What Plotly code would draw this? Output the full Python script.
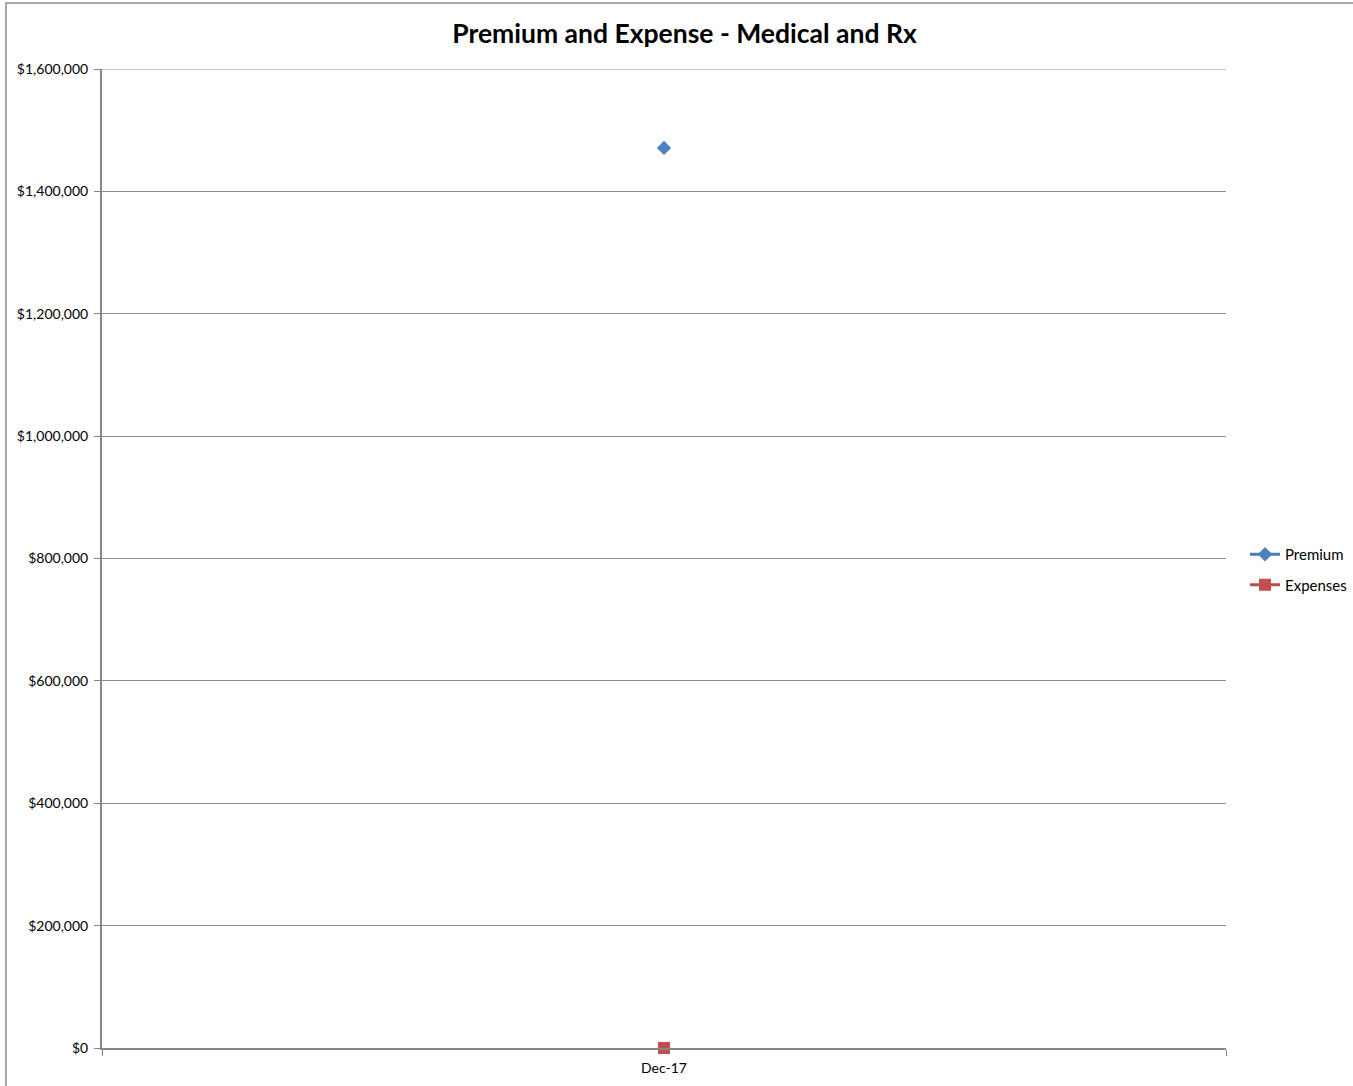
import plotly.graph_objects as go

categories = ["Dec-17"]
premium = [1471000]
expenses = [0]
y_ticks = [0, 200000, 400000, 600000, 800000, 1000000, 1200000, 1400000, 1600000]
y_tick_labels = ["$0", "$200,000", "$400,000", "$600,000", "$800,000",
                 "$1,000,000", "$1,200,000", "$1,400,000", "$1,600,000"]
y_max = 1600000

font_family = "Lato, 'Open Sans', sans-serif"

fig = go.Figure()
fig.add_trace(go.Scatter(
    x=categories, y=premium, name="Premium", mode="lines+markers",
    legendgroup="p",
    line=dict(color="#4A7EBB", width=3),
    marker=dict(symbol="diamond", size=11, color="#4F81BD"),
))
fig.add_trace(go.Scatter(
    x=categories, y=expenses, name="Expenses", mode="lines+markers",
    legendgroup="e",
    line=dict(color="#BE4B48", width=3),
    marker=dict(symbol="square", size=12, color="#C0504D"),
    cliponaxis=False,
))

fig.update_layout(
    width=1353, height=1086,
    margin=dict(l=102, r=127, t=69, b=38, autoexpand=False),
    paper_bgcolor="white", plot_bgcolor="white",
    font=dict(family=font_family, size=14, color="black"),
    title=dict(text="<b>Premium and Expense - Medical and Rx</b>",
               x=(453 + 916) / 2 / 1353, xanchor="center",
               y=1 - 34 / 1086, yanchor="middle",
               font=dict(size=26.5, family=font_family, color="black")),
    showlegend=True,
    legend=dict(x=(1245 - 102) / 1124, xanchor="left",
                y=0.5 - 11 / 979, yanchor="middle",
                font=dict(size=15, family=font_family), itemwidth=30,
                tracegroupgap=8, bgcolor="rgba(0,0,0,0)"),
    xaxis=dict(type="category", range=[-0.5, 0.5], tickson="boundaries",
               ticks="outside", ticklen=6, tickcolor="#868686",
               showline=True, linecolor="#868686", linewidth=2,
               showgrid=False, tickfont=dict(size=14),
               ticklabelstandoff=6),
    yaxis=dict(range=[0, y_max], tickvals=y_ticks, ticktext=y_tick_labels,
               ticks="outside", ticklen=6, tickcolor="#868686",
               showline=True, linecolor="#868686", linewidth=2,
               showgrid=True, gridcolor="#8C8C8C", gridwidth=1,
               zeroline=False, tickfont=dict(size=14),
               ticklabelstandoff=3),
    shapes=[
        dict(type="rect", xref="paper", yref="paper",
             x0=(6 - 102) / 1124, x1=(1400 - 102) / 1124,
             y0=(1048 - 1100) / 979, y1=(1048 - 3) / 979,
             line=dict(color="#8C8C8C", width=1.5), layer="below"),
        dict(type="line", xref="paper", yref="y", x0=0, x1=1,
             y0=y_max, y1=y_max, line=dict(color="#8C8C8C", width=1),
             layer="below"),
    ],
)

fig.write_html("out.html")
